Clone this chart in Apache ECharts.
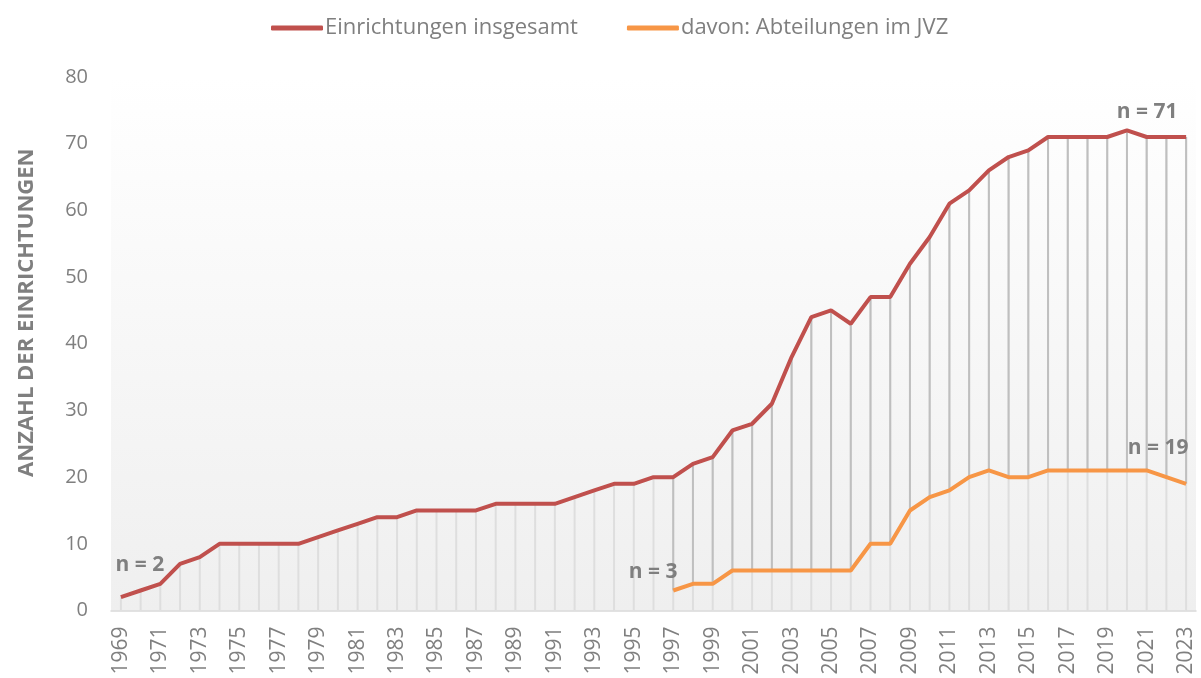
<!DOCTYPE html>
<html>
<head>
<meta charset="utf-8">
<script src="https://cdn.jsdelivr.net/npm/echarts@6/dist/echarts.min.js"></script>
<style>
html,body{margin:0;padding:0;background:#fff;}
#c{width:1201px;height:678px;}
</style>
</head>
<body>
<div id="c"></div>
<script>
const years = ['1969','1970','1971','1972','1973','1974','1975','1976','1977','1978','1979','1980','1981','1982','1983','1984','1985','1986','1987','1988','1989','1990','1991','1992','1993','1994','1995','1996','1997','1998','1999','2000','2001','2002','2003','2004','2005','2006','2007','2008','2009','2010','2011','2012','2013','2014','2015','2016','2017','2018','2019','2020','2021','2022','2023'];
const totalSeries = [2,3,4,7,8,10,10,10,10,10,11,12,13,14,14,15,15,15,15,16,16,16,16,17,18,19,19,20,20,22,23,27,28,31,38,44,45,43,47,47,52,56,61,63,66,68,69,71,71,71,71,72,71,71,71];
const jvzSeries = [null,null,null,null,null,null,null,null,null,null,null,null,null,null,null,null,null,null,null,null,null,null,null,null,null,null,null,null,3,4,4,6,6,6,6,6,6,6,10,10,15,17,18,20,21,20,20,21,21,21,21,21,21,20,19];
const yTicks = [0,10,20,30,40,50,60,70,80];
const seriesNames = ['Einrichtungen insgesamt','davon: Abteilungen im JVZ'];
const yTitle = 'ANZAHL DER EINRICHTUNGEN';

const FONT = 'Open Sans';
const GREY = '#7f7f7f';
const RED = '#C0504D';
const ORANGE = '#F79646';

const firstJvz = jvzSeries.findIndex(v => v !== null);
const lastIdx = years.length - 1;

const dropData = totalSeries.map((v, i) => [i, v, jvzSeries[i] === null ? '-' : jvzSeries[i]]);

const labelStyle = {fontFamily: FONT, fontWeight: 'bold', fontSize: 21, color: GREY};

const chart = echarts.init(document.getElementById('c'), null, {renderer: 'canvas'});
chart.setOption({
  animation: false,
  textStyle: {fontFamily: FONT},
  legend: {
    data: seriesNames,
    left: 266,
    top: 12,
    icon: 'roundRect',
    itemWidth: 52,
    itemHeight: 5,
    itemGap: 49,
    textStyle: {fontFamily: FONT, fontSize: 22, color: GREY, padding: [0,0,0,-3]}
  },
  grid: {
    left: 111, right: 5, top: 77, bottom: 67.5,
    show: true, borderWidth: 0,
    backgroundColor: new echarts.graphic.LinearGradient(0, 0, 0, 1, [
      {offset: 0, color: '#ffffff'},
      {offset: 1, color: '#efefef'}
    ])
  },
  xAxis: {
    type: 'category',
    data: years,
    boundaryGap: true,
    axisLine: {show: true, lineStyle: {color: '#d9d9d9', width: 1.5}},
    axisTick: {show: false},
    splitLine: {show: false},
    axisLabel: {rotate: 90, interval: 1, margin: 16, fontFamily: FONT, fontSize: 21, color: GREY}
  },
  yAxis: {
    type: 'value',
    min: yTicks[0], max: yTicks[yTicks.length - 1], interval: yTicks[1] - yTicks[0],
    name: yTitle,
    nameLocation: 'middle',
    nameRotate: 90,
    nameGap: 73,
    nameTextStyle: {fontFamily: FONT, fontWeight: 'bold', fontSize: 22, color: GREY, padding: [0, 0, 0, 62]},
    axisLine: {show: false},
    axisTick: {show: false},
    splitLine: {show: false},
    axisLabel: {margin: 23, fontFamily: FONT, fontSize: 20, color: GREY}
  },
  series: [
    {
      type: 'custom',
      name: 'drop',
      silent: true,
      z: 1,
      data: dropData,
      encode: {x: 0, y: 1},
      renderItem: function (params, api) {
        const i = api.value(0);
        const top = api.coord([i, api.value(1)]);
        const bot = api.coord([i, 0]);
        const children = [{
          type: 'line',
          shape: {x1: top[0], y1: top[1], x2: bot[0], y2: bot[1]},
          style: {stroke: '#dedede', lineWidth: 2}
        }];
        const sub = api.value(2);
        if (!isNaN(sub)) {
          const low = api.coord([i, sub]);
          children.push({
            type: 'line',
            shape: {x1: top[0], y1: top[1], x2: low[0], y2: low[1]},
            style: {stroke: '#bfbfbf', lineWidth: 2}
          });
        }
        return {type: 'group', children: children};
      }
    },
    {
      type: 'line',
      name: seriesNames[0],
      data: totalSeries,
      z: 3,
      showSymbol: false,
      symbol: 'none',
      lineStyle: {color: RED, width: 4},
      itemStyle: {color: RED},
      markPoint: {
        symbol: 'circle', symbolSize: 1,
        itemStyle: {color: 'rgba(0,0,0,0)'},
        label: Object.assign({show: true, position: 'inside'}, labelStyle),
        data: [
          {coord: [0, totalSeries[0]], value: 'n = ' + totalSeries[0], label: {offset: [19, -32], formatter: '{c}'}},
          {coord: [lastIdx, totalSeries[lastIdx]], value: 'n = ' + totalSeries[lastIdx], label: {offset: [-39, -25], formatter: '{c}'}}
        ]
      }
    },
    {
      type: 'line',
      name: seriesNames[1],
      data: jvzSeries,
      z: 3,
      showSymbol: false,
      symbol: 'none',
      lineStyle: {color: ORANGE, width: 4},
      itemStyle: {color: ORANGE},
      markPoint: {
        symbol: 'circle', symbolSize: 1,
        itemStyle: {color: 'rgba(0,0,0,0)'},
        label: Object.assign({show: true, position: 'inside'}, labelStyle),
        data: [
          {coord: [firstJvz, jvzSeries[firstJvz]], value: 'n = ' + jvzSeries[firstJvz], label: {offset: [-20, -18], formatter: '{c}'}},
          {coord: [lastIdx, jvzSeries[lastIdx]], value: 'n = ' + jvzSeries[lastIdx], label: {offset: [-28, -36], formatter: '{c}'}}
        ]
      }
    }
  ]
});
</script>
</body>
</html>
